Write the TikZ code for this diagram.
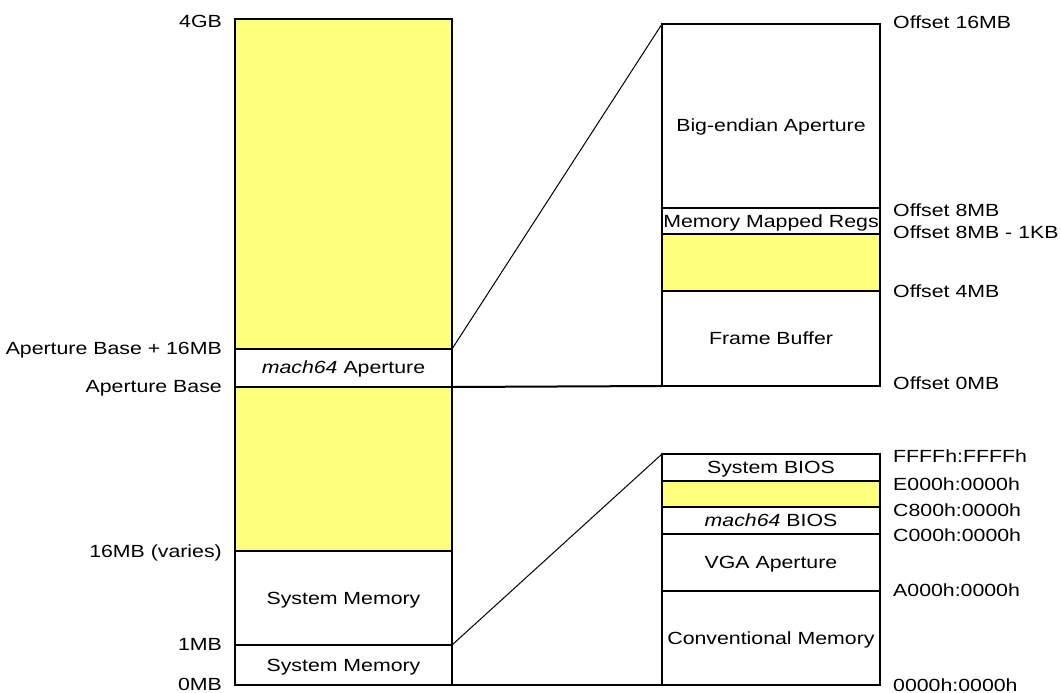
\documentclass[tikz,border=0pt]{standalone}
\usepackage{fontspec}
\setmainfont[FakeStretch=1.21]{Liberation Sans}
\usetikzlibrary{calc}
\definecolor{freeyellow}{RGB}{255,255,128}
\tikzset{
	blk/.style={draw=black,line width=2pt},
	used/.style={blk,fill=white},
	free/.style={blk,fill=freeyellow},
	link/.style={draw=black,line width=1pt},
	addrL/.style={anchor=base east,yshift=-6.3pt,inner sep=0pt},
	addrR/.style={anchor=base west,yshift=-6.3pt,inner sep=0pt},
	area/.style={anchor=base,yshift=-6.3pt,inner sep=0pt}
}
\begin{document}
\begin{tikzpicture}[x=1pt,y=-1pt,font=\fontsize{17.6}{20}\selectfont]
		\useasboundingbox (0,0) rectangle (1061,693);
		% 4GB map
		\fill[white] (0,0) rectangle (1061,693);
		\draw[free] (235,19) rectangle (452,349);
		\draw[used] (235,349) rectangle (452,387);
		\draw[free] (235,387) rectangle (452,551);
		\draw[used] (235,551) rectangle (452,645);
		\draw[used] (235,645) rectangle (452,685);
		\node[area] (apname) at (343.5,367) {\textit{mach64} Aperture};
		\node[area] (sysmemhi) at (343.5,598) {System Memory};
		\node[area] (sysmemlo) at (343.5,665) {System Memory};
		\node[addrL] (l4gb) at (222,21) {4GB};
		\node[addrL] (lapsixteen) at (222,348) {Aperture Base + 16MB};
		\node[addrL] (lapbase) at (222,386) {Aperture Base};
		\node[addrL] (lsixteen) at (222,551.5) {16MB (varies)};
		\node[addrL] (lone) at (222,644) {1MB};
		\node[addrL] (lzero) at (222,684) {0MB};
		% Aperture
		\draw[used] (662,24) rectangle (880,208);
		\draw[used] (662,208) rectangle (880,234);
		\draw[free] (662,234) rectangle (880,291);
		\draw[used] (662,291) rectangle (880,386);
		\node[area] (bigend) at (771,125) {Big-endian Aperture};
		\node[area] (mmregs) at (771,221) {Memory Mapped Regs};
		\node[area] (fbuf) at (771,338) {Frame Buffer};
		\node[addrR] (osixteen) at (893,22.5) {Offset 16MB};
		\node[addrR] (oeight) at (893,210) {Offset 8MB};
		\node[addrR] (oeightk) at (893,232) {Offset 8MB - 1KB};
		\node[addrR] (ofour) at (893,291.5) {Offset 4MB};
		\node[addrR] (ozero) at (893,383.5) {Offset 0MB};
		% First MB
		\draw[used] (662,454) rectangle (880,481);
		\draw[free] (662,481) rectangle (880,507);
		\draw[used] (662,507) rectangle (880,534);
		\draw[used] (662,534) rectangle (880,591);
		\draw[used] (662,591) rectangle (880,685);
		\node[area] (sysbios) at (771,467.5) {System BIOS};
		\node[area] (vbios) at (771,520.5) {\textit{mach64} BIOS};
		\node[area] (vga) at (771,562.5) {VGA Aperture};
		\node[area] (conv) at (771,638) {Conventional Memory};
		\node[addrR] (sfffff) at (893,456) {FFFFh:FFFFh};
		\node[addrR] (se0000) at (893,484) {E000h:0000h};
		\node[addrR] (sc8000) at (893,510) {C800h:0000h};
		\node[addrR] (sc0000) at (893,535.5) {C000h:0000h};
		\node[addrR] (sa0000) at (893,590) {A000h:0000h};
		\node[addrR] (s00000) at (893,685) {0000h:0000h};
		% zoom lines
		\coordinate (apHi) at (452,349);
		\coordinate (apLo) at (452,387);
		\coordinate (offHi) at (662,24);
		\coordinate (offLo) at (662,386);
		\coordinate (mbOne) at (452,645);
		\coordinate (mbZero) at (452,685);
		\coordinate (realHi) at (662,454);
		\coordinate (realLo) at (662,685);
		\draw[link] (apHi) -- (offHi);
		\draw[blk] (apLo) -- (offLo);
		\draw[link] (mbOne) -- (realHi);
		\draw[blk] (mbZero) -- (realLo);
	\end{tikzpicture}
\end{document}
